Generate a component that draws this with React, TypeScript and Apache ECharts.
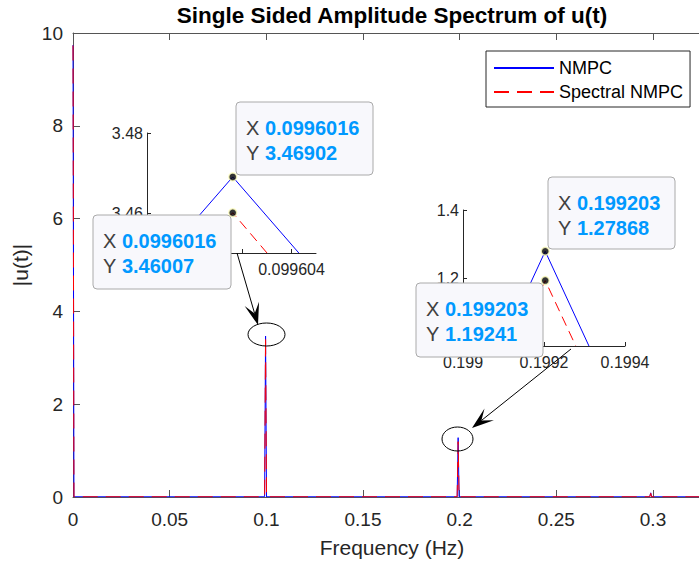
import React, { useEffect, useRef } from "react";
import * as echarts from "echarts";

// ---------- data ----------
const FONT = "'Liberation Sans', Arial, Helvetica, sans-serif";

// main spectrum (frequency in Hz, amplitude |u(t)|)
const freq = [0, 0.000498, 0.0991036, 0.0996016, 0.1000996, 0.1987052, 0.199203, 0.1997012, 0.2983068, 0.2988048, 0.2993028, 0.33];
const nmpcAmp = [9.74, 0.005, 0.005, 3.46902, 0.005, 0.005, 1.27868, 0.005, 0.005, 0.09, 0.005, 0.005];
const spectralAmp = [9.73, 0.005, 0.005, 3.46007, 0.005, 0.005, 1.19241, 0.005, 0.005, 0.08, 0.005, 0.005];

// zoom inset around the 0.0996 Hz peak
const zoom1NmpcFreq = [0.0995989, 0.0996016, 0.0996043];
const zoom1NmpcAmp = [3.45, 3.46902, 3.45];
const zoom1SpecFreq = [0.0996002, 0.0996016, 0.099603];
const zoom1SpecAmp = [3.45, 3.46007, 3.45];

// zoom inset around the 0.1992 Hz peak
const zoom2NmpcFreq = [0.199095, 0.199203, 0.199311];
const zoom2NmpcAmp = [1.0, 1.27868, 1.0];
const zoom2SpecFreq = [0.1991275, 0.199203, 0.1992785];
const zoom2SpecAmp = [1.0, 1.19241, 1.0];

// tick values
const xTicks = [0, 0.05, 0.1, 0.15, 0.2, 0.25, 0.3];
const yTicks = [0, 2, 4, 6, 8, 10];
const zoom1XTicks = [0.0996, 0.099602, 0.099604];
const zoom1XLabels = [0.099604];
const zoom1YTicks = [3.46, 3.48];
const zoom2XTicks = [0.199, 0.1992, 0.1994];
const zoom2YTicks = [1.0, 1.2, 1.4];
const zoom2YLabels = [1.2, 1.4];

// data tips: [x, y]
const tipNmpc1 = [0.0996016, 3.46902];
const tipSpec1 = [0.0996016, 3.46007];
const tipNmpc2 = [0.199203, 1.27868];
const tipSpec2 = [0.199203, 1.19241];

const pairs = (xs: number[], ys: number[]) => xs.map((x, i) => [x, ys[i]]);

function tipBox(x: number, y: number, w: number, h: number, v: number[]) {
  const xs = v[0].toPrecision(6);
  const ys = v[1].toPrecision(6);
  return [
    {
      type: "rect",
      z: 50,
      shape: { x, y, width: w, height: h, r: 4 },
      style: { fill: "#f8f8fc", stroke: "#aaaaaa", lineWidth: 1 },
    },
    {
      type: "text",
      z: 51,
      x: x + 10,
      y: y + 13,
      style: {
        text: `{l|X }{v|${xs}}\n{l|Y }{v|${ys}}`,
        verticalAlign: "top",
        rich: {
          l: { fill: "#404040", fontSize: 20, fontFamily: FONT, lineHeight: 25 },
          v: { fill: "#0099ff", fontSize: 20, fontWeight: "bold", fontFamily: FONT, lineHeight: 25 },
        },
      },
    },
  ];
}

function arrow(x1: number, y1: number, x2: number, y2: number) {
  const dx = x2 - x1, dy = y2 - y1;
  const L = Math.hypot(dx, dy);
  const ux = dx / L, uy = dy / L;
  const px = -uy, py = ux;
  const hl = 22, hw = 7.5, notch = 12;
  return [
    {
      type: "line",
      z: 60,
      shape: { x1, y1, x2: x2 - ux * notch, y2: y2 - uy * notch },
      style: { stroke: "#000", lineWidth: 1 },
    },
    {
      type: "polygon",
      z: 60,
      shape: {
        points: [
          [x2, y2],
          [x2 - ux * hl + px * hw, y2 - uy * hl + py * hw],
          [x2 - ux * notch, y2 - uy * notch],
          [x2 - ux * hl - px * hw, y2 - uy * hl - py * hw],
        ],
      },
      style: { fill: "#000" },
    },
  ];
}

const axisColor = "#262626";

export default function App() {
  const ref = useRef<HTMLDivElement>(null);
  useEffect(() => {
    if (!ref.current) return;
    const chart = echarts.init(ref.current, undefined, { renderer: "svg" });

    const insetAxisBase = {
      axisLine: { show: true, onZero: false, lineStyle: { color: axisColor, width: 1 } },
      splitLine: { show: false },
    };

    const option: any = {
      animation: false,
      backgroundColor: "#ffffff",
      textStyle: { fontFamily: FONT },
      legend: {
        data: ["NMPC", "Spectral NMPC"],
        orient: "vertical",
        left: 486,
        top: 51,
        padding: [7, 7, 5, 7],
        itemWidth: 60,
        itemHeight: 14,
        itemGap: 4,
        backgroundColor: "#ffffff",
        borderColor: axisColor,
        borderWidth: 1,
        borderRadius: 0,
        itemStyle: { color: "rgba(0,0,0,0)", borderWidth: 0, opacity: 0 },
        textStyle: { fontSize: 18, color: "#000", lineHeight: 20, fontFamily: FONT },
      },
      grid: [
        { left: 73, top: 33, right: -12, bottom: 67, outerBoundsMode: "none" },
        { left: 147, top: 133, width: 169, height: 120, outerBoundsMode: "none" },
        { left: 463, top: 210, width: 162, height: 136, outerBoundsMode: "none" },
      ],
      xAxis: [
        {
          gridIndex: 0,
          type: "value",
          min: 0,
          max: 0.33,
          interval: 0.05,
          name: "Frequency (Hz)",
          nameLocation: "middle",
          nameGap: 40,
          nameTextStyle: { fontSize: 21, color: axisColor, fontFamily: FONT },
          axisLine: { show: true, onZero: false, lineStyle: { color: "#555", width: 1 } },
          axisTick: { show: true, inside: true, length: 7, customValues: xTicks, lineStyle: { color: "#555" } },
          axisLabel: {
            fontSize: 19,
            color: axisColor,
            margin: 13,
            customValues: xTicks,
            formatter: (v: number) => String(+v.toFixed(2)),
          },
          splitLine: { show: false },
        },
        {
          gridIndex: 0,
          type: "value",
          position: "top",
          min: 0,
          max: 0.33,
          interval: 0.05,
          axisLine: { show: true, onZero: false, lineStyle: { color: "#555", width: 1 } },
          axisTick: { show: true, inside: true, length: 7, customValues: xTicks, lineStyle: { color: "#555" } },
          axisLabel: { show: false },
          splitLine: { show: false },
        },
        {
          ...insetAxisBase,
          gridIndex: 1,
          type: "value",
          min: 0.0995981,
          max: 0.099605,
          axisTick: { show: true, inside: true, length: 4, customValues: zoom1XTicks, lineStyle: { color: axisColor } },
          axisLabel: {
            fontSize: 16,
            color: axisColor,
            margin: 8,
            customValues: zoom1XLabels,
            formatter: (v: number) => v.toFixed(6),
          },
        },
        {
          ...insetAxisBase,
          gridIndex: 2,
          type: "value",
          min: 0.199,
          max: 0.1994,
          axisTick: { show: true, inside: true, length: 4, customValues: zoom2XTicks, lineStyle: { color: axisColor } },
          axisLabel: {
            fontSize: 16,
            color: axisColor,
            margin: 8,
            customValues: zoom2XTicks,
            formatter: (v: number) => String(+v.toFixed(4)),
          },
        },
      ],
      yAxis: [
        {
          gridIndex: 0,
          type: "value",
          min: 0,
          max: 10,
          interval: 2,
          name: "|u(t)|",
          nameLocation: "middle",
          nameGap: 38,
          nameTextStyle: { fontSize: 21, color: axisColor, fontFamily: FONT },
          axisLine: { show: true, onZero: false, lineStyle: { color: "#555", width: 1 } },
          axisTick: { show: true, inside: true, length: 7, customValues: yTicks, lineStyle: { color: "#555" } },
          axisLabel: { fontSize: 19, color: axisColor, margin: 10, customValues: yTicks },
          splitLine: { show: false },
        },
        {
          ...insetAxisBase,
          gridIndex: 1,
          type: "value",
          min: 3.45,
          max: 3.48,
          axisTick: { show: true, inside: true, length: 4, customValues: zoom1YTicks, lineStyle: { color: axisColor } },
          axisLabel: {
            fontSize: 16,
            color: axisColor,
            margin: 4,
            customValues: zoom1YTicks,
            formatter: (v: number) => v.toFixed(2),
          },
        },
        {
          ...insetAxisBase,
          gridIndex: 2,
          type: "value",
          min: 1.0,
          max: 1.4,
          axisTick: { show: true, inside: true, length: 4, customValues: zoom2YTicks, lineStyle: { color: axisColor } },
          axisLabel: {
            fontSize: 16,
            color: axisColor,
            margin: 4,
            customValues: zoom2YLabels,
            formatter: (v: number) => v.toFixed(1),
          },
        },
      ],
      series: [
        {
          name: "NMPC",
          type: "line",
          xAxisIndex: 0,
          yAxisIndex: 0,
          data: pairs(freq, nmpcAmp),
          symbol: "none",
          lineStyle: { color: "#0000ff", width: 1 },
          itemStyle: { color: "#0000ff" },
          z: 2,
        },
        {
          name: "Spectral NMPC",
          type: "line",
          xAxisIndex: 0,
          yAxisIndex: 0,
          data: pairs(freq, spectralAmp),
          symbol: "none",
          lineStyle: { color: "#ff0000", width: 1, type: [15, 8] },
          itemStyle: { color: "#ff0000" },
          z: 3,
        },
        {
          name: "NMPC",
          type: "line",
          xAxisIndex: 2,
          yAxisIndex: 1,
          data: pairs(zoom1NmpcFreq, zoom1NmpcAmp),
          symbol: "none",
          lineStyle: { color: "#0000ff", width: 1 },
          z: 2,
        },
        {
          name: "Spectral NMPC",
          type: "line",
          xAxisIndex: 2,
          yAxisIndex: 1,
          data: pairs(zoom1SpecFreq, zoom1SpecAmp),
          symbol: "none",
          lineStyle: { color: "#ff0000", width: 1, type: [10, 6] },
          z: 3,
        },
        {
          name: "NMPC",
          type: "line",
          xAxisIndex: 3,
          yAxisIndex: 2,
          data: pairs(zoom2NmpcFreq, zoom2NmpcAmp),
          symbol: "none",
          lineStyle: { color: "#0000ff", width: 1 },
          z: 2,
        },
        {
          name: "Spectral NMPC",
          type: "line",
          xAxisIndex: 3,
          yAxisIndex: 2,
          data: pairs(zoom2SpecFreq, zoom2SpecAmp),
          symbol: "none",
          lineStyle: { color: "#ff0000", width: 1, type: [10, 6] },
          z: 3,
        },
        {
          name: "tip1",
          type: "scatter",
          xAxisIndex: 2,
          yAxisIndex: 1,
          data: [tipNmpc1, tipSpec1],
          symbol: "circle",
          symbolSize: 8,
          itemStyle: { color: "#000", borderColor: "#ffffc0", borderWidth: 1.5 },
          z: 70,
        },
        {
          name: "tip2",
          type: "scatter",
          xAxisIndex: 3,
          yAxisIndex: 2,
          data: [tipNmpc2, tipSpec2],
          symbol: "circle",
          symbolSize: 8,
          itemStyle: { color: "#000", borderColor: "#ffffc0", borderWidth: 1.5 },
          z: 70,
        },
      ],
      graphic: [
        {
          type: "text",
          x: 392,
          y: 15,
          style: {
            text: "Single Sided Amplitude Spectrum of u(t)",
            fontSize: 22.5,
            fontWeight: "bold",
            fontFamily: FONT,
            fill: "#000",
            align: "center",
            verticalAlign: "middle",
          },
        },
        ...tipBox(236, 102, 137, 73, tipNmpc1),
        ...tipBox(93, 215, 138, 74, tipSpec1),
        ...tipBox(548, 177, 127, 72, tipNmpc2),
        ...tipBox(416, 283, 127, 74, tipSpec2),
        {
          type: "ellipse",
          z: 60,
          shape: { cx: 266.5, cy: 334.5, rx: 18.5, ry: 11.5 },
          style: { fill: "none", stroke: "#000", lineWidth: 1 },
        },
        {
          type: "ellipse",
          z: 60,
          shape: { cx: 457.5, cy: 439, rx: 15.5, ry: 12 },
          style: { fill: "none", stroke: "#000", lineWidth: 1 },
        },
        ...arrow(237, 253, 258, 325),
        ...arrow(571, 349, 472, 428),
      ],
    };

    chart.setOption(option);
    return () => chart.dispose();
  }, []);

  return (
    <div
      ref={ref}
      style={{ position: "absolute", left: 0, top: 0, width: 699, height: 564, overflow: "hidden" }}
    />
  );
}
